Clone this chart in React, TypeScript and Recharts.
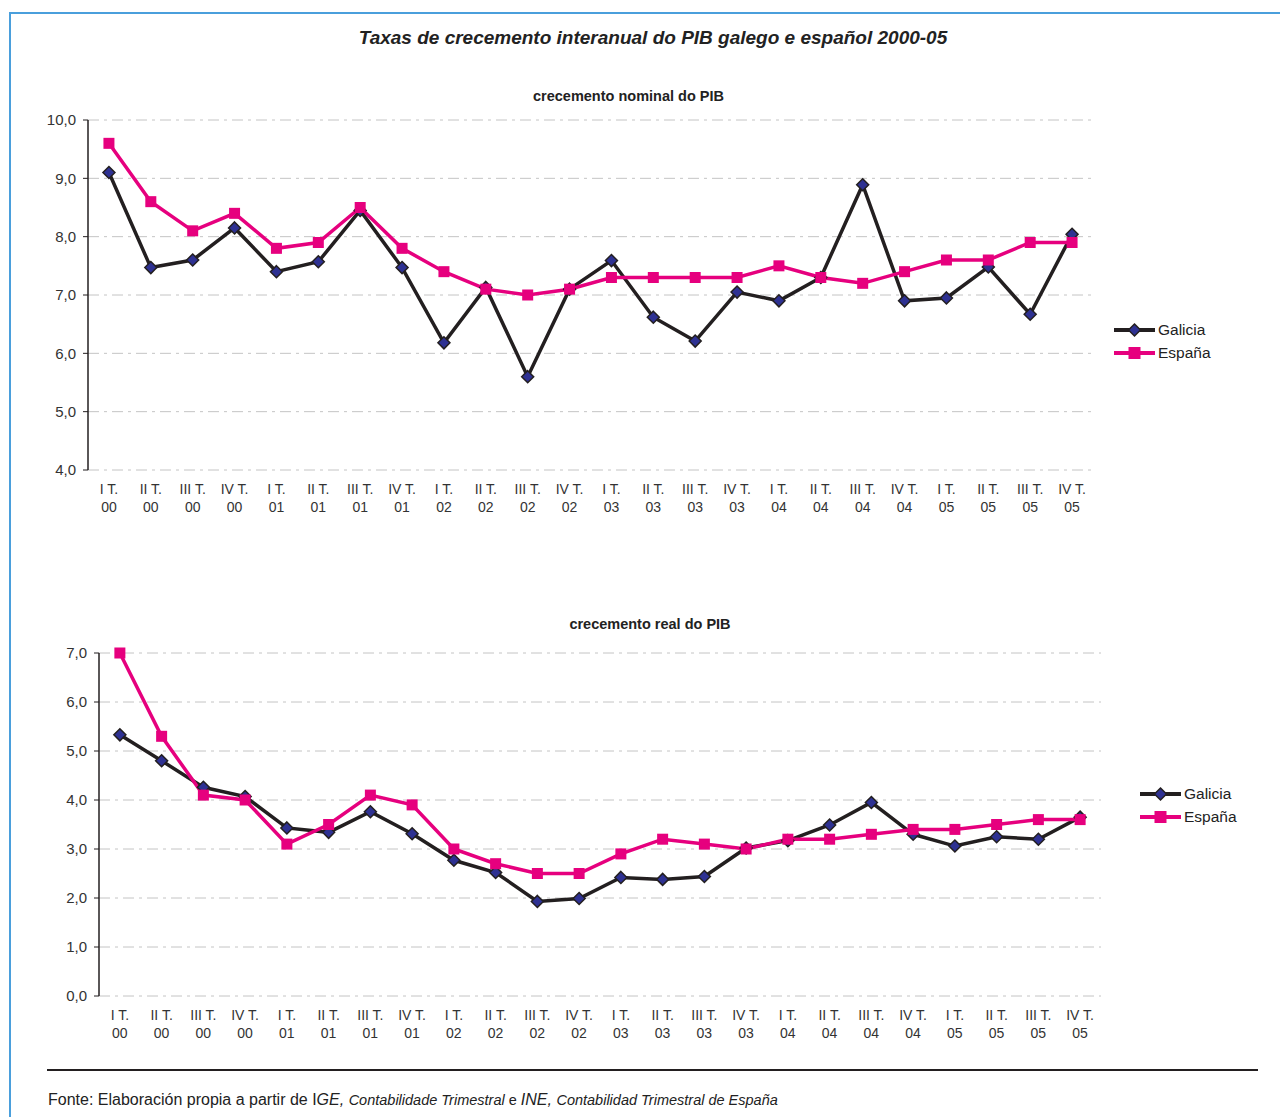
import { LineChart, Line, XAxis, YAxis, CartesianGrid, Legend } from 'recharts'

const QUARTERS = ['I T.', 'II T.', 'III T.', 'IV T.']
const YEARS = ['00', '01', '02', '03', '04', '05']

const GALICIA_NOMINAL = [
  9.1, 7.47, 7.6, 8.15, 7.4, 7.57, 8.45, 7.47, 6.18, 7.13, 5.6, 7.1,
  7.59, 6.62, 6.21, 7.05, 6.9, 7.3, 8.89, 6.9, 6.95, 7.48, 6.67, 8.04,
]
const ESPANA_NOMINAL = [
  9.6, 8.6, 8.1, 8.4, 7.8, 7.9, 8.5, 7.8, 7.4, 7.1, 7.0, 7.1,
  7.3, 7.3, 7.3, 7.3, 7.5, 7.3, 7.2, 7.4, 7.6, 7.6, 7.9, 7.9,
]
const GALICIA_REAL = [
  5.33, 4.8, 4.26, 4.07, 3.43, 3.34, 3.76, 3.31, 2.77, 2.52, 1.93, 1.99,
  2.42, 2.38, 2.44, 3.02, 3.17, 3.49, 3.95, 3.3, 3.06, 3.25, 3.2, 3.65,
]
const ESPANA_REAL = [
  7.0, 5.3, 4.1, 4.0, 3.1, 3.5, 4.1, 3.9, 3.0, 2.7, 2.5, 2.5,
  2.9, 3.2, 3.1, 3.0, 3.2, 3.2, 3.3, 3.4, 3.4, 3.5, 3.6, 3.6,
]

const NOMINAL_TICKS = [4, 5, 6, 7, 8, 9, 10]
const REAL_TICKS = [0, 1, 2, 3, 4, 5, 6, 7]

const FONT = '"Liberation Sans", Arial, sans-serif'
const BLACK = '#231f20'
const PINK = '#e6007e'
const NAVY = '#2e3192'
const GRID = '#c4c4c4'

const N = GALICIA_NOMINAL.length
const BOUNDS = Array.from({ length: N + 1 }, (_, i) => i)
const CENTERS = Array.from({ length: N }, (_, i) => i + 0.5)

function buildRows(gal: number[], esp: number[]) {
  return gal.map((g, i) => ({ x: i + 0.5, Galicia: g, 'España': esp[i] }))
}

const fmt = (v: number) => v.toFixed(1).replace('.', ',')

function Diamond({ cx, cy, r = 6 }: { cx: number; cy: number; r?: number }) {
  if (cx == null || cy == null) return null
  return (
    <path
      d={`M${cx},${cy - r} L${cx + r},${cy} L${cx},${cy + r} L${cx - r},${cy} Z`}
      fill={NAVY}
      stroke={BLACK}
      strokeWidth={1.5}
    />
  )
}

function Square({ cx, cy, s = 11 }: { cx: number; cy: number; s?: number }) {
  if (cx == null || cy == null) return null
  return <rect x={cx - s / 2} y={cy - s / 2} width={s} height={s} fill={PINK} />
}

function QuarterTick(props: any) {
  const { x, y, payload } = props
  const idx = Math.floor(payload.value)
  return (
    <text textAnchor="middle" fill="#333" fontSize={14} fontFamily={FONT}>
      <tspan x={x} y={y + 24}>{QUARTERS[idx % 4]}</tspan>
      <tspan x={x} y={y + 42}>{YEARS[Math.floor(idx / 4)]}</tspan>
    </text>
  )
}

function LegendBox({ lineW }: { lineW: number }) {
  const rows = [
    { name: 'Galicia', color: BLACK, kind: 'd' },
    { name: 'España', color: PINK, kind: 's' },
  ]
  return (
    <div style={{ fontFamily: FONT, fontSize: 15.5, color: '#222' }}>
      {rows.map((r) => (
        <div key={r.name} style={{ display: 'flex', alignItems: 'center', height: 23 }}>
          <svg width={lineW} height={16} style={{ display: 'block' }}>
            <line x1={0} y1={8} x2={lineW} y2={8} stroke={r.color} strokeWidth={4} />
            {r.kind === 'd' ? (
              <Diamond cx={lineW / 2} cy={8} r={6} />
            ) : (
              <Square cx={lineW / 2} cy={8} s={12} />
            )}
          </svg>
          <span style={{ marginLeft: 3 }}>{r.name}</span>
        </div>
      ))}
    </div>
  )
}

function Panel(props: {
  top: number
  height: number
  margin: { top: number; right: number; bottom: number; left: number }
  gal: number[]
  esp: number[]
  ticks: number[]
  legendLeft: number
  legendTop: number
  legendLineW: number
}) {
  const { top, height, margin, gal, esp, ticks } = props
  const rows = buildRows(gal, esp)
  return (
    <div style={{ position: 'absolute', left: 0, top }}>
      <LineChart width={1280} height={height} data={rows} margin={margin}>
        <CartesianGrid vertical={false} stroke={GRID} strokeDasharray="11 5 3 5" />
        <XAxis
          dataKey="x"
          type="number"
          domain={[0, N]}
          ticks={BOUNDS}
          interval={0}
          height={0}
          tickSize={6}
          tickLine={{ stroke: BLACK }}
          axisLine={{ stroke: BLACK, strokeWidth: 1.5 }}
          tick={false as any}
        />
        <XAxis
          xAxisId="lab"
          dataKey="x"
          type="number"
          domain={[0, N]}
          ticks={CENTERS}
          interval={0}
          height={50}
          axisLine={false}
          tickLine={false}
          tickSize={0}
          tickMargin={0}
          tick={<QuarterTick />}
        />
        <YAxis
          domain={[ticks[0], ticks[ticks.length - 1]]}
          ticks={ticks}
          interval={0}
          width={60}
          tickSize={5}
          tickMargin={7}
          tickFormatter={fmt}
          tick={{ fill: '#333', fontSize: 15, fontFamily: FONT }}
          tickLine={{ stroke: BLACK }}
          axisLine={{ stroke: BLACK, strokeWidth: 1.5 }}
        />
        <Legend
          layout="vertical"
          align="center"
          verticalAlign="middle"
          wrapperStyle={{ left: props.legendLeft, top: props.legendTop, width: 'auto' }}
          content={() => <LegendBox lineW={props.legendLineW} />}
        />
        <Line
          dataKey="Galicia"
          stroke={BLACK}
          strokeWidth={3.5}
          isAnimationActive={false}
          dot={(p: any) => <Diamond key={`g${p.index}`} cx={p.cx} cy={p.cy} />}
          activeDot={false}
        />
        <Line
          dataKey="España"
          stroke={PINK}
          strokeWidth={3.5}
          isAnimationActive={false}
          dot={(p: any) => <Square key={`e${p.index}`} cx={p.cx} cy={p.cy} />}
          activeDot={false}
        />
      </LineChart>
    </div>
  )
}

export default function App() {
  return (
    <div
      style={{
        position: 'absolute',
        left: 0,
        top: 0,
        width: 1280,
        height: 1117,
        overflow: 'hidden',
        background: '#fff',
        fontFamily: FONT,
      }}
    >
      <div
        style={{
          position: 'absolute',
          left: 9,
          top: 12,
          width: 1300,
          height: 1200,
          borderLeft: '2px solid #4a9fdc',
          borderTop: '2px solid #4a9fdc',
        }}
      />
      <div
        style={{
          position: 'absolute',
          left: 0,
          width: 1306,
          top: 27,
          textAlign: 'center',
          fontSize: 19,
          fontWeight: 'bold',
          fontStyle: 'italic',
          color: '#222',
        }}
      >
        Taxas de crecemento interanual do PIB galego e español 2000-05
      </div>
      <div
        style={{
          position: 'absolute',
          left: 0,
          width: 1257,
          top: 88,
          textAlign: 'center',
          fontSize: 14.5,
          fontWeight: 'bold',
          color: '#222',
        }}
      >
        crecemento nominal do PIB
      </div>
      <Panel
        top={0}
        height={540}
        margin={{ top: 120, right: 187, left: 28, bottom: 20 }}
        gal={GALICIA_NOMINAL}
        esp={ESPANA_NOMINAL}
        ticks={NOMINAL_TICKS}
        legendLeft={1114}
        legendTop={318}
        legendLineW={41}
      />
      <div
        style={{
          position: 'absolute',
          left: 0,
          width: 1300,
          top: 616,
          textAlign: 'center',
          fontSize: 14.5,
          fontWeight: 'bold',
          color: '#222',
        }}
      >
        crecemento real do PIB
      </div>
      <Panel
        top={560}
        height={520}
        margin={{ top: 93, right: 179, left: 39, bottom: 34 }}
        gal={GALICIA_REAL}
        esp={ESPANA_REAL}
        ticks={REAL_TICKS}
        legendLeft={1140}
        legendTop={222}
        legendLineW={41}
      />
      <div
        style={{
          position: 'absolute',
          left: 47,
          top: 1069,
          width: 1211,
          height: 2,
          background: BLACK,
        }}
      />
      <div
        style={{
          position: 'absolute',
          left: 48,
          top: 1091,
          fontSize: 16,
          color: '#222',
          whiteSpace: 'nowrap',
        }}
      >
        Fonte: Elaboración propia a partir de I<i>GE,</i>{' '}
        <i style={{ fontSize: 14.5 }}>Contabilidade Trimestral</i>
        <span style={{ fontSize: 14.5 }}> e </span>
        <i>INE,</i> <i style={{ fontSize: 14.5 }}>Contabilidad Trimestral de España</i>
      </div>
    </div>
  )
}
